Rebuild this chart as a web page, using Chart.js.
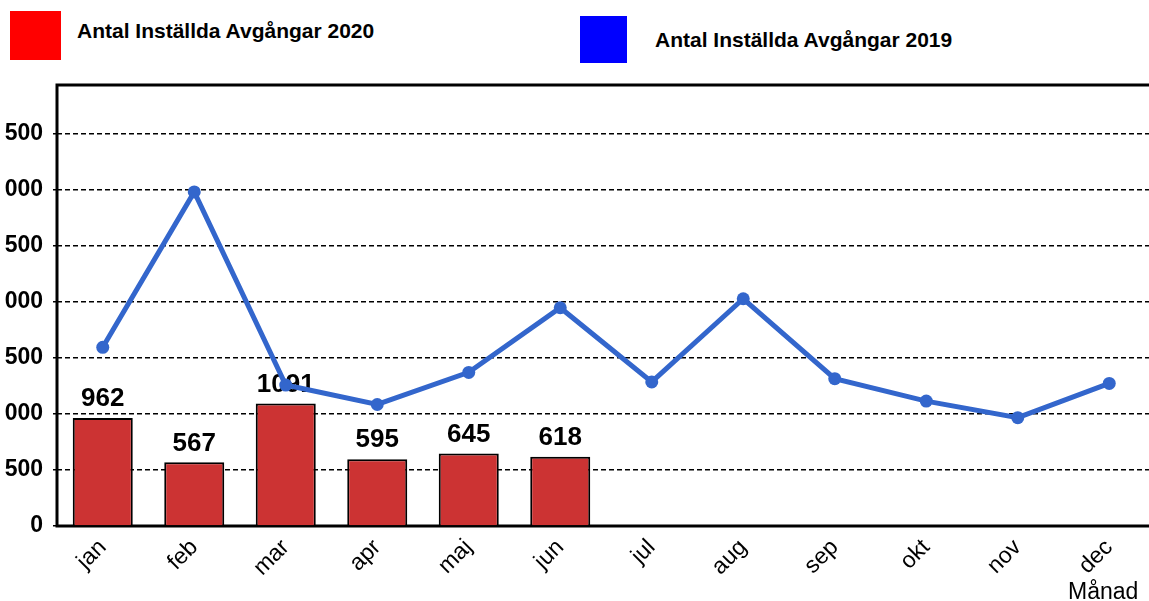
<!DOCTYPE html>
<html>
<head>
<meta charset="utf-8">
<script src="https://cdn.jsdelivr.net/npm/chart.js@4"></script>
<style>
    html, body { margin: 0; padding: 0; background: #fff; }
    #wrap { position: relative; width: 1149px; height: 601px; overflow: hidden; font-family: Arial, 'Liberation Sans', sans-serif; }
    #chart { position: absolute; left: -30px; top: 0; }
    .key { position: absolute; }
    .key-label { position: absolute; font-weight: bold; font-size: 21px; color: #000; white-space: nowrap; }
    #axis-title { position: absolute; left: 1068px; top: 578px; font-size: 23px; color: #000; }
</style>
</head>
<body>
<div id="wrap">
    <div class="key" style="left:10px;top:11px;width:51px;height:49px;background:#ff0000;"></div>
    <div class="key-label" style="left:77px;top:19px;">Antal Inställda Avgångar 2020</div>
    <div class="key" style="left:580px;top:16px;width:47px;height:47px;background:#0000ff;"></div>
    <div class="key-label" style="left:655px;top:28px;">Antal Inställda Avgångar 2019</div>
    <canvas id="chart" width="1200" height="601"></canvas>
    <div id="axis-title">Månad</div>
</div>
<script>
let months     = [ 'jan', 'feb', 'mar', 'apr', 'maj', 'jun', 'jul', 'aug', 'sep', 'okt', 'nov', 'dec' ];
let values2020 = [ 962, 567, 1091, 595, 645, 618, null, null, null, null, null, null ];
let values2019 = [ 1592, 2977, 1256, 1083, 1369, 1945, 1284, 2025, 1313, 1113, 965, 1271 ];
let yTicks     = [ 0, 500, 1000, 1500, 2000, 2500, 3000, 3500 ];

let colors = {
    bar  : '#cc3333',
    line : '#3366cc'
};

// swedish style thousands: "3 500"
let formatNumber = ( v ) => String( v ).replace( /\B(?=(\d{3})+(?!\d))/g, ' ' );

// value labels above the 2020 bars, drawn before the 2019 line goes on top
let barLabels = {
    id : 'barLabels',
    afterDatasetDraw : ( chart, args ) => {
        if ( args.index !== 0 ) return;
        let ctx = chart.ctx;
        ctx.save();
        ctx.font = 'bold 26px Arial, "Liberation Sans"';
        ctx.fillStyle = '#000';
        ctx.textAlign = 'center';
        ctx.textBaseline = 'bottom';
        args.meta.data.forEach( ( bar, i ) => {
            if ( values2020[ i ] === null ) return;
            ctx.fillText( String( values2020[ i ] ), bar.x, bar.y - 6 );
        } );
        ctx.restore();
    }
};

// plot frame: solid left, bottom and top lines
let frame = {
    id : 'frame',
    beforeDatasetsDraw : ( chart ) => {
        let a = chart.chartArea, ctx = chart.ctx;
        ctx.save();
        ctx.lineWidth = 3;
        ctx.strokeStyle = '#000';
        ctx.strokeRect( a.left, a.top, a.right - a.left, a.bottom - a.top );
        ctx.restore();
    }
};

let ctx = document.getElementById( 'chart' ).getContext( '2d' );
let chart = new Chart( ctx, {
    type : 'bar',
    data : {
        labels : months,
        datasets : [
            {
                type : 'bar',
                label : 'Antal Inställda Avgångar 2020',
                data : values2020,
                backgroundColor : colors.bar,
                borderColor : '#000',
                borderWidth : 2,
                barPercentage : 0.656,
                categoryPercentage : 1,
                order : 1
            },
            {
                type : 'line',
                label : 'Antal Inställda Avgångar 2019',
                data : values2019,
                borderColor : colors.line,
                backgroundColor : colors.line,
                borderWidth : 5,
                pointRadius : 6.5,
                pointBorderWidth : 0,
                tension : 0,
                order : 0
            }
        ]
    },
    plugins : [ frame, barLabels ],
    options : {
        responsive : false,
        animation : false,
        devicePixelRatio : 1,
        layout : { padding : { top : 85, right : 15, left : 0, bottom : 0 } },
        plugins : {
            legend : { display : false },
            tooltip : { enabled : false }
        },
        scales : {
            x : {
                grid : { display : false },
                border : { display : false },
                ticks : {
                    color : '#000',
                    font : { family : 'Arial, "Liberation Sans"', size : 23 },
                    minRotation : 45,
                    maxRotation : 45,
                    padding : 0
                },
                afterFit : ( scale ) => { scale.height = 75; }
            },
            y : {
                min : 0,
                max : 3930,
                afterBuildTicks : ( scale ) => {
                    scale.ticks = yTicks.map( ( v ) => ( { value : v } ) );
                },
                afterFit : ( scale ) => { scale.width = 87; },
                grid : {
                    color : '#000',
                    lineWidth : 1.5,
                    tickLength : 4
                },
                border : { display : false, dash : [ 5, 3 ] },
                ticks : {
                    color : '#000',
                    padding : 10,
                    callback : ( value ) => formatNumber( value ),
                    font : { family : 'Arial, "Liberation Sans"', size : 23, weight : 'bold' }
                }
            }
        }
    }
} );
</script>
</body>
</html>
